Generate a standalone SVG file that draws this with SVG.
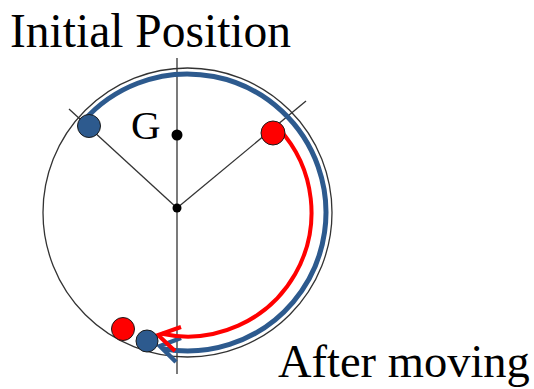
<svg xmlns="http://www.w3.org/2000/svg" width="534" height="389" viewBox="0 0 534 389">
<style>
.lbl{font-family:"Liberation Serif","Times New Roman",serif;fill:#000}
.thin{stroke:#333;stroke-width:1.3;fill:none}
.blue{stroke:#2D5A8E;fill:none}
.red{stroke:#FF0000;fill:none}
.bdot{fill:#2D5A8E;stroke:#1a1a1a;stroke-width:1}
.rdot{fill:#FF0000;stroke:#1a1a1a;stroke-width:1}
</style>
<rect width="534" height="389" fill="#fff"/>
<g id="frame">
<circle cx="187.5" cy="212.5" r="144.5" class="thin" stroke-width="1.5"/>
<line x1="177" y1="58" x2="177" y2="374" class="thin"/>
<line x1="69" y1="109" x2="177" y2="208" class="thin"/>
<line x1="177" y1="208" x2="306" y2="101" class="thin"/>
</g>
<g id="connectors">
<path d="M83.4,121.1 A138.5,138.5 0 1 1 163.5,348.9" class="blue" stroke-width="5"/>
<polyline points="181,338 160,346 176,362" class="blue" stroke-width="4.5" stroke-linejoin="miter"/>
<path d="M278.8,128.6 A124,124 0 0 1 161.7,333.8" class="red" stroke-width="4"/>
<polyline points="181,327 158,335 175,351" class="red" stroke-width="4"/>
</g>
<g id="G">
<circle cx="177" cy="135" r="5.5" fill="#000"/>
<text x="131" y="139" class="lbl" font-size="41">G</text>
</g>
<g id="center">
<circle cx="177" cy="208" r="4.5" fill="#000"/>
</g>
<g id="blue-initial"><circle cx="89" cy="126" r="11.5" class="bdot"/></g>
<g id="red-initial"><circle cx="273" cy="133" r="12" class="rdot"/></g>
<g id="red-after"><circle cx="123" cy="329" r="11.5" class="rdot"/></g>
<g id="blue-after"><circle cx="147" cy="341" r="11" class="bdot"/></g>
<g id="label-initial"><text x="10" y="47" class="lbl" font-size="47.5">Initial Position</text></g>
<g id="label-after"><text x="278" y="377" class="lbl" font-size="46.5">After moving</text></g>
</svg>
